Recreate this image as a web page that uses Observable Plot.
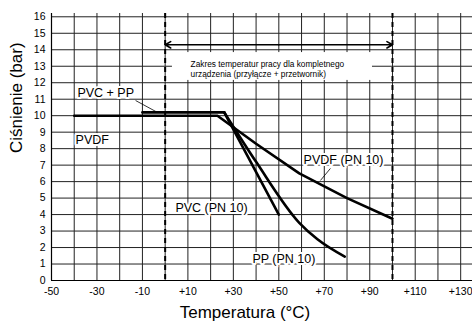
<!DOCTYPE html>
<html><head><meta charset="utf-8">
<script src="https://cdn.jsdelivr.net/npm/d3@7"></script>
<script src="https://cdn.jsdelivr.net/npm/@observablehq/plot@0.6"></script>
<style>
body{margin:0;background:#fff;}
svg{display:block;}
</style>
</head><body>
<div id="chart"></div>
<script>
// Series (temperature °C, pressure bar)
const pvdfT = [-40, 23, 40, 59, 80, 100];
const pvdfP = [10, 10, 8.3, 6.5, 5.0, 3.75];
const pvcppT = [-10, 26];
const pvcppP = [10.2, 10.2];
const pvcT = [26, 50];
const pvcP = [10.2, 4.0];
const ppT = [26, 40, 59, 67, 79];
const ppP = [10.2, 7.2, 3.5, 2.5, 1.45];

// Axes / grid
const xTicks = [-50, -30, -10, 10, 30, 50, 70, 90, 110, 130];
const yTicks = [0,1,2,3,4,5,6,7,8,9,10,11,12,13,14,15,16];
const vGrid = [-40,-30,-20,-10,0,10,20,30,40,50,60,70,80,90,100,110,120,130];
const hGrid = [1,2,3,4,5,6,7,8,9,10,11,12,13,14,15,16];
const rangeLimits = [0, 100];
const xTitle = ["Temperatura (°C)"];
const yTitle = ["Ciśnienie (bar)"];

// Annotations
const labelText = ["PVC + PP", "PVDF", "PVC (PN 10)", "PP (PN 10)", "PVDF (PN 10)"];
const labelT = [-38.6, -39.4, 4.5, 38.4, 60.9];
const labelP = [11.4, 8.5, 4.37, 1.33, 7.34];
const leaderT1 = [-13.0, 72.7];
const leaderP1 = [10.92, 6.8];
const leaderT2 = [-3.4, 68.3];
const leaderP2 = [10.2, 6.07];
const noteText = ["Zakres temperatur pracy dla kompletnego\nurządzenia (przyłącze + przetwornik)"];
const noteT = [11.2];
const noteP = [12.86];
const noteBox = [{x1: 3.2, x2: 91.2, y1: 12.14, y2: 13.83}];
const arrowMid = 50, arrowP = 14.3;

const line = (T, P) => T.map((t, i) => ({t, p: P[i]}));
const labels = labelText.map((s, i) => ({s, t: labelT[i], p: labelP[i]}));
const leaders = leaderT1.map((t, i) => ({x1: t, y1: leaderP1[i], x2: leaderT2[i], y2: leaderP2[i]}));
const notes = noteText.map((s, i) => ({s, t: noteT[i], p: noteP[i]}));
const arrows = rangeLimits.map(v => ({x1: arrowMid, x2: v, y: arrowP}));

const chart = Plot.plot({
  width: 472, height: 326,
  marginLeft: 51, marginRight: 0, marginTop: 13, marginBottom: 46,
  style: {fontFamily: "'Liberation Sans', Arial, sans-serif", fontSize: "10.5px", color: "#000", background: "#fff", overflow: "visible"},
  x: {domain: [-50, 135.2]},
  y: {domain: [0, 16.2]},
  marks: [
    Plot.ruleX(vGrid, {stroke: "#222", strokeWidth: 1}),
    Plot.ruleY(hGrid, {stroke: "#222", strokeWidth: 1}),
    Plot.rect(noteBox, {x1: "x1", x2: "x2", y1: "y1", y2: "y2", fill: "#fff"}),
    Plot.ruleX(rangeLimits, {stroke: "#000", strokeWidth: 2, strokeDasharray: "5,4"}),
    Plot.arrow(arrows, {x1: "x1", x2: "x2", y1: "y", y2: "y", stroke: "#000", strokeWidth: 1.6, headLength: 6, bend: 0}),
    Plot.line(line(pvdfT, pvdfP), {x: "t", y: "p", stroke: "#000", strokeWidth: 2.6}),
    Plot.line(line(pvcppT, pvcppP), {x: "t", y: "p", stroke: "#000", strokeWidth: 2.6}),
    Plot.line(line(pvcT, pvcP), {x: "t", y: "p", stroke: "#000", strokeWidth: 2.6}),
    Plot.line(line(ppT, ppP), {x: "t", y: "p", stroke: "#000", strokeWidth: 2.6, curve: "monotone-x"}),
    Plot.link(leaders, {x1: "x1", y1: "y1", x2: "x2", y2: "y2", stroke: "#000", strokeWidth: 0.8}),
    Plot.text(labels, {x: "t", y: "p", text: "s", textAnchor: "start", fontSize: 12.5, fill: "#000", stroke: "#fff", strokeWidth: 4}),
    Plot.text(notes, {x: "t", y: "p", text: "s", textAnchor: "start", fontSize: 8.3, lineHeight: 1.2, fill: "#000"}),
    Plot.ruleX([-50], {stroke: "#000", strokeWidth: 1.2}),
    Plot.ruleY([0], {stroke: "#000", strokeWidth: 1.2}),
    Plot.axisX({ticks: xTicks, tickSize: 0, tickPadding: 7, tickFormat: d => d > 0 ? "+" + d : String(d), label: null}),
    Plot.axisY({ticks: yTicks, tickSize: 0, tickPadding: 6, tickFormat: d => String(d), label: null}),
    Plot.text(xTitle, {frameAnchor: "bottom", dx: -17, dy: 32, fontSize: 17, fill: "#000", lineAnchor: "middle", style: "letter-spacing:0.8px"}),
    Plot.text(yTitle, {frameAnchor: "left", rotate: -90, dx: -35, dy: 6, fontSize: 17, fill: "#000", lineAnchor: "middle", style: "letter-spacing:0.8px"})
  ]
});
document.getElementById("chart").appendChild(chart);
</script>
</body></html>
